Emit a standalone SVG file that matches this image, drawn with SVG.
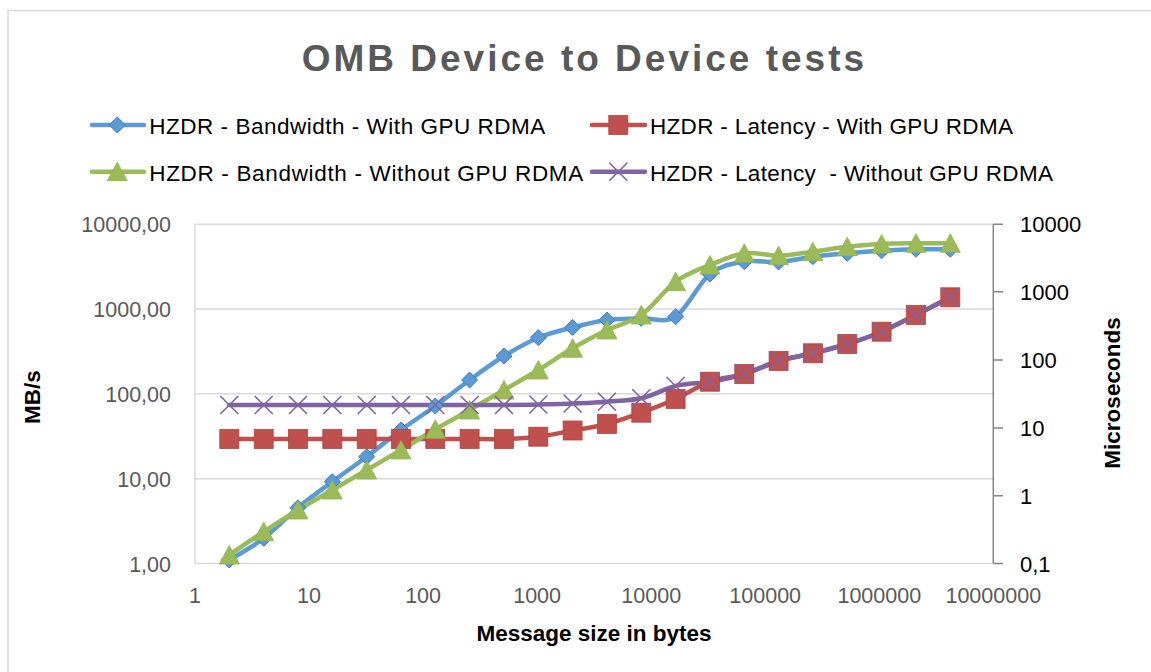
<svg xmlns="http://www.w3.org/2000/svg" xmlns:xlink="http://www.w3.org/1999/xlink" width="1151" height="672" viewBox="0 0 1151 672">
<style>
.grid{stroke:#D9D9D9;stroke-width:1.5;fill:none}
.raxis{stroke:#868686;stroke-width:1.5;fill:none}
.ser{fill:none;stroke-width:4.5;stroke-linecap:round;stroke-linejoin:round}
.tl{font-family:"Liberation Sans",Arial,sans-serif;font-size:21.5px;fill:#595959}
.tr{font-family:"Liberation Sans",Arial,sans-serif;font-size:22px;fill:#000}
.lg{font-family:"Liberation Sans",Arial,sans-serif;font-size:22.5px;fill:#000}
.at{font-family:"Liberation Sans",Arial,sans-serif;font-size:22.5px;font-weight:bold;fill:#000}
.title{font-family:"Liberation Sans",Arial,sans-serif;font-size:37px;font-weight:bold;fill:#595959;letter-spacing:3px}
</style>
<defs>
<path id="dia" d="M0,-8 L8,0 L0,8 L-8,0 Z" fill="#5B9BD5" stroke="#3F7DC0" stroke-width="1"/>
<rect id="sq" x="-9.5" y="-9.5" width="19" height="19" fill="#C0504D" stroke="#B8413E" stroke-width="0.8"/>
<path id="tri" d="M0,-9.5 L10,9 L-10,9 Z" fill="#9BBB59" stroke="#93B24F" stroke-width="0.8"/>
<path id="xm" d="M-9,-9 L9,9 M-9,9 L9,-9" stroke="#8064A2" stroke-width="1.6" fill="none"/>
</defs>
<rect width="1151" height="672" fill="#FFFFFF"/>
<rect x="8" y="10.5" width="1200" height="700" fill="none" stroke="#D9D9D9" stroke-width="1.5"/>

<text class="title" x="301.7" y="70.7">OMB Device to Device tests</text>

<g id="legend">
<g id="legend-bw-rdma">
<line x1="92" y1="125" x2="144" y2="125" stroke="#5B9BD5" stroke-width="4.5" stroke-linecap="round"/>
<use xlink:href="#dia" x="117.3" y="125"/>
<text class="lg" x="149.3" y="134" textLength="396">HZDR - Bandwidth - With GPU RDMA</text>
</g>
<g id="legend-lat-rdma">
<line x1="592" y1="125" x2="645" y2="125" stroke="#C0504D" stroke-width="4.5" stroke-linecap="round"/>
<use xlink:href="#sq" x="618.3" y="125"/>
<text class="lg" x="650" y="134" textLength="363">HZDR - Latency - With GPU RDMA</text>
</g>
<g id="legend-bw-nordma">
<line x1="92" y1="171.7" x2="144" y2="171.7" stroke="#9BBB59" stroke-width="4.5" stroke-linecap="round"/>
<use xlink:href="#tri" x="117.3" y="171.7"/>
<text class="lg" x="149.3" y="180.7" textLength="434">HZDR - Bandwidth - Without GPU RDMA</text>
</g>
<g id="legend-lat-nordma">
<line x1="592" y1="171.7" x2="645" y2="171.7" stroke="#8064A2" stroke-width="4.5" stroke-linecap="round"/>
<use xlink:href="#xm" x="618.3" y="171.7"/>
<text class="lg" x="650" y="180.7" textLength="403" xml:space="preserve">HZDR - Latency  - Without GPU RDMA</text>
</g>
</g>

<g id="axes">
<line class="grid" x1="195" y1="224.3" x2="993.3" y2="224.3"/>
<line class="grid" x1="195" y1="309" x2="993.3" y2="309"/>
<line class="grid" x1="195" y1="393.7" x2="993.3" y2="393.7"/>
<line class="grid" x1="195" y1="478.7" x2="993.3" y2="478.7"/>
<line class="grid" x1="195" y1="563.5" x2="993.3" y2="563.5"/>
<line class="grid" x1="195" y1="224.3" x2="195" y2="563.5"/>
<path class="raxis" d="M993.3,224.3 V563.5 M993.3,224.3 H1003 M993.3,291.7 H1003 M993.3,360 H1003 M993.3,428 H1003 M993.3,495.7 H1003 M993.3,563.5 H1003"/>
<g id="left-ticks">
<text class="tl" x="171" y="232.3" text-anchor="end">10000,00</text>
<text class="tl" x="171" y="317" text-anchor="end">1000,00</text>
<text class="tl" x="171" y="401.7" text-anchor="end">100,00</text>
<text class="tl" x="171" y="486.7" text-anchor="end">10,00</text>
<text class="tl" x="171" y="571.5" text-anchor="end">1,00</text>
</g>
<g id="right-ticks">
<text class="tr" x="1020" y="232.3">10000</text>
<text class="tr" x="1020" y="299.7">1000</text>
<text class="tr" x="1020" y="368">100</text>
<text class="tr" x="1020" y="436">10</text>
<text class="tr" x="1020" y="503.7">1</text>
<text class="tr" x="1020" y="571.5">0,1</text>
</g>
<g id="x-ticks">
<text class="tl" x="195" y="602.7" text-anchor="middle">1</text>
<text class="tl" x="309" y="602.7" text-anchor="middle">10</text>
<text class="tl" x="423.1" y="602.7" text-anchor="middle">100</text>
<text class="tl" x="537.1" y="602.7" text-anchor="middle">1000</text>
<text class="tl" x="651.2" y="602.7" text-anchor="middle">10000</text>
<text class="tl" x="765.2" y="602.7" text-anchor="middle">100000</text>
<text class="tl" x="879.3" y="602.7" text-anchor="middle">1000000</text>
<text class="tl" x="993.3" y="602.7" text-anchor="middle">10000000</text>
</g>
<text class="at" x="594" y="640.7" text-anchor="middle">Message size in bytes</text>
<text class="at" transform="translate(40,397) rotate(-90)" text-anchor="middle">MB/s</text>
<text class="at" transform="translate(1120,393) rotate(-90)" text-anchor="middle">Microseconds</text>
</g>

<g id="connectors">
<path id="line-bw-rdma" class="ser" stroke="#5B9BD5" d="M229.3,560 C235.1,556.4 252.2,547 263.7,538.3 S286.6,517.1 298,507.7 S320.9,490.2 332.3,481.7 S355.2,465.3 366.7,456.7 S389.5,438.5 401,430 S423.9,414.3 435.3,406 S458.2,388.3 469.6,380 S492.5,363.1 504,356 S526.9,342.5 538.3,337.7 S561.2,330.5 572.6,327.5 S595.5,321.5 607,320 S629.9,318.9 641.3,318.3 S664.2,324.1 675.6,316.7 S698.5,283.2 710,274 S732.8,263.7 744.3,261.7 S767.2,262.8 778.6,262 S801.5,258.2 812.9,256.7 S835.8,254.3 847.3,253.3 S870.2,251.4 881.6,250.7 S904.5,249.5 915.9,249.3 S944.5,249.3 950.3,249.3"/>
<path id="line-lat-rdma" class="ser" stroke="#C0504D" d="M229.3,439 C235.1,439 252.2,439 263.7,439 S286.6,439 298,439 S320.9,439 332.3,439 S355.2,439 366.7,439 S389.5,439 401,439 S423.9,439 435.3,439 S458.2,439 469.6,439 S492.5,439.4 504,439 S526.9,438.1 538.3,436.7 S561.2,432.6 572.6,430.5 S595.5,427 607,424 S629.9,416.9 641.3,412.7 S664.2,404.2 675.6,399 S698.5,385.9 710,381.7 S732.8,377.5 744.3,374 S767.2,364.5 778.6,361 S801.5,356.1 812.9,353.3 S835.8,347.6 847.3,344 S870.2,336.5 881.6,331.7 S904.5,320.7 915.9,315 S944.5,300.3 950.3,297.3"/>
<path id="line-bw-nordma" class="ser" stroke="#9BBB59" d="M229.3,555 C235.1,551.1 252.2,539.2 263.7,531.7 S286.6,517 298,510 S320.9,496.7 332.3,490 S355.2,476.7 366.7,470 S389.5,456.8 401,450 S423.9,436 435.3,429.3 S458.2,416.6 469.6,410 S492.5,396.7 504,390 S526.9,377 538.3,370 S561.2,355 572.6,348.3 S595.5,335.6 607,330 S629.9,323.1 641.3,315 S664.2,290 675.6,281.7 S698.5,269.7 710,265 S732.8,254.9 744.3,253.3 S767.2,256 778.6,255.7 S801.5,253.2 812.9,251.7 S835.8,248 847.3,246.7 S870.2,244.6 881.6,244 S904.5,243.4 915.9,243.3 S944.5,243.3 950.3,243.3"/>
<path id="line-lat-nordma" class="ser" stroke="#8064A2" d="M229.3,405 C235.1,405 252.2,405 263.7,405 S286.6,405 298,405 S320.9,405 332.3,405 S355.2,405 366.7,405 S389.5,405 401,405 S423.9,405 435.3,405 S458.2,405 469.6,405 S492.5,405.1 504,405 S526.9,404.8 538.3,404.5 S561.2,404 572.6,403.5 S595.5,402.6 607,401.7 S629.9,400.9 641.3,398.3 S664.2,388.8 675.6,386 S698.5,383.7 710,381.7 S732.8,377.5 744.3,374 S767.2,364.5 778.6,361 S801.5,356.1 812.9,353.3 S835.8,347.6 847.3,344 S870.2,336.5 881.6,331.7 S904.5,320.7 915.9,315 S944.5,300.3 950.3,297.3"/>
</g>

<g id="markers-bw-rdma">
<use xlink:href="#dia" x="229.3" y="560"/><use xlink:href="#dia" x="263.7" y="538.3"/><use xlink:href="#dia" x="298" y="507.7"/><use xlink:href="#dia" x="332.3" y="481.7"/><use xlink:href="#dia" x="366.7" y="456.7"/><use xlink:href="#dia" x="401" y="430"/><use xlink:href="#dia" x="435.3" y="406"/><use xlink:href="#dia" x="469.6" y="380"/><use xlink:href="#dia" x="504" y="356"/><use xlink:href="#dia" x="538.3" y="337.7"/><use xlink:href="#dia" x="572.6" y="327.5"/><use xlink:href="#dia" x="607" y="320"/><use xlink:href="#dia" x="641.3" y="318.3"/><use xlink:href="#dia" x="675.6" y="316.7"/><use xlink:href="#dia" x="710" y="274"/><use xlink:href="#dia" x="744.3" y="261.7"/><use xlink:href="#dia" x="778.6" y="262"/><use xlink:href="#dia" x="812.9" y="256.7"/><use xlink:href="#dia" x="847.3" y="253.3"/><use xlink:href="#dia" x="881.6" y="250.7"/><use xlink:href="#dia" x="915.9" y="249.3"/><use xlink:href="#dia" x="950.3" y="249.3"/>
</g>
<g id="markers-lat-rdma">
<use xlink:href="#sq" x="229.3" y="439"/><use xlink:href="#sq" x="263.7" y="439"/><use xlink:href="#sq" x="298" y="439"/><use xlink:href="#sq" x="332.3" y="439"/><use xlink:href="#sq" x="366.7" y="439"/><use xlink:href="#sq" x="401" y="439"/><use xlink:href="#sq" x="435.3" y="439"/><use xlink:href="#sq" x="469.6" y="439"/><use xlink:href="#sq" x="504" y="439"/><use xlink:href="#sq" x="538.3" y="436.7"/><use xlink:href="#sq" x="572.6" y="430.5"/><use xlink:href="#sq" x="607" y="424"/><use xlink:href="#sq" x="641.3" y="412.7"/><use xlink:href="#sq" x="675.6" y="399"/><use xlink:href="#sq" x="710" y="381.7"/><use xlink:href="#sq" x="744.3" y="374"/><use xlink:href="#sq" x="778.6" y="361"/><use xlink:href="#sq" x="812.9" y="353.3"/><use xlink:href="#sq" x="847.3" y="344"/><use xlink:href="#sq" x="881.6" y="331.7"/><use xlink:href="#sq" x="915.9" y="315"/><use xlink:href="#sq" x="950.3" y="297.3"/>
</g>
<g id="markers-bw-nordma">
<use xlink:href="#tri" x="229.3" y="555"/><use xlink:href="#tri" x="263.7" y="531.7"/><use xlink:href="#tri" x="298" y="510"/><use xlink:href="#tri" x="332.3" y="490"/><use xlink:href="#tri" x="366.7" y="470"/><use xlink:href="#tri" x="401" y="450"/><use xlink:href="#tri" x="435.3" y="429.3"/><use xlink:href="#tri" x="469.6" y="410"/><use xlink:href="#tri" x="504" y="390"/><use xlink:href="#tri" x="538.3" y="370"/><use xlink:href="#tri" x="572.6" y="348.3"/><use xlink:href="#tri" x="607" y="330"/><use xlink:href="#tri" x="641.3" y="315"/><use xlink:href="#tri" x="675.6" y="281.7"/><use xlink:href="#tri" x="710" y="265"/><use xlink:href="#tri" x="744.3" y="253.3"/><use xlink:href="#tri" x="778.6" y="255.7"/><use xlink:href="#tri" x="812.9" y="251.7"/><use xlink:href="#tri" x="847.3" y="246.7"/><use xlink:href="#tri" x="881.6" y="244"/><use xlink:href="#tri" x="915.9" y="243.3"/><use xlink:href="#tri" x="950.3" y="243.3"/>
</g>
<g id="markers-lat-nordma">
<use xlink:href="#xm" x="229.3" y="405"/><use xlink:href="#xm" x="263.7" y="405"/><use xlink:href="#xm" x="298" y="405"/><use xlink:href="#xm" x="332.3" y="405"/><use xlink:href="#xm" x="366.7" y="405"/><use xlink:href="#xm" x="401" y="405"/><use xlink:href="#xm" x="435.3" y="405"/><use xlink:href="#xm" x="469.6" y="405"/><use xlink:href="#xm" x="504" y="405"/><use xlink:href="#xm" x="538.3" y="404.5"/><use xlink:href="#xm" x="572.6" y="403.5"/><use xlink:href="#xm" x="607" y="401.7"/><use xlink:href="#xm" x="641.3" y="398.3"/><use xlink:href="#xm" x="675.6" y="386"/><use xlink:href="#xm" x="710" y="381.7"/><use xlink:href="#xm" x="744.3" y="374"/><use xlink:href="#xm" x="778.6" y="361"/><use xlink:href="#xm" x="812.9" y="353.3"/><use xlink:href="#xm" x="847.3" y="344"/><use xlink:href="#xm" x="881.6" y="331.7"/><use xlink:href="#xm" x="915.9" y="315"/><use xlink:href="#xm" x="950.3" y="297.3"/>
</g>
</svg>
